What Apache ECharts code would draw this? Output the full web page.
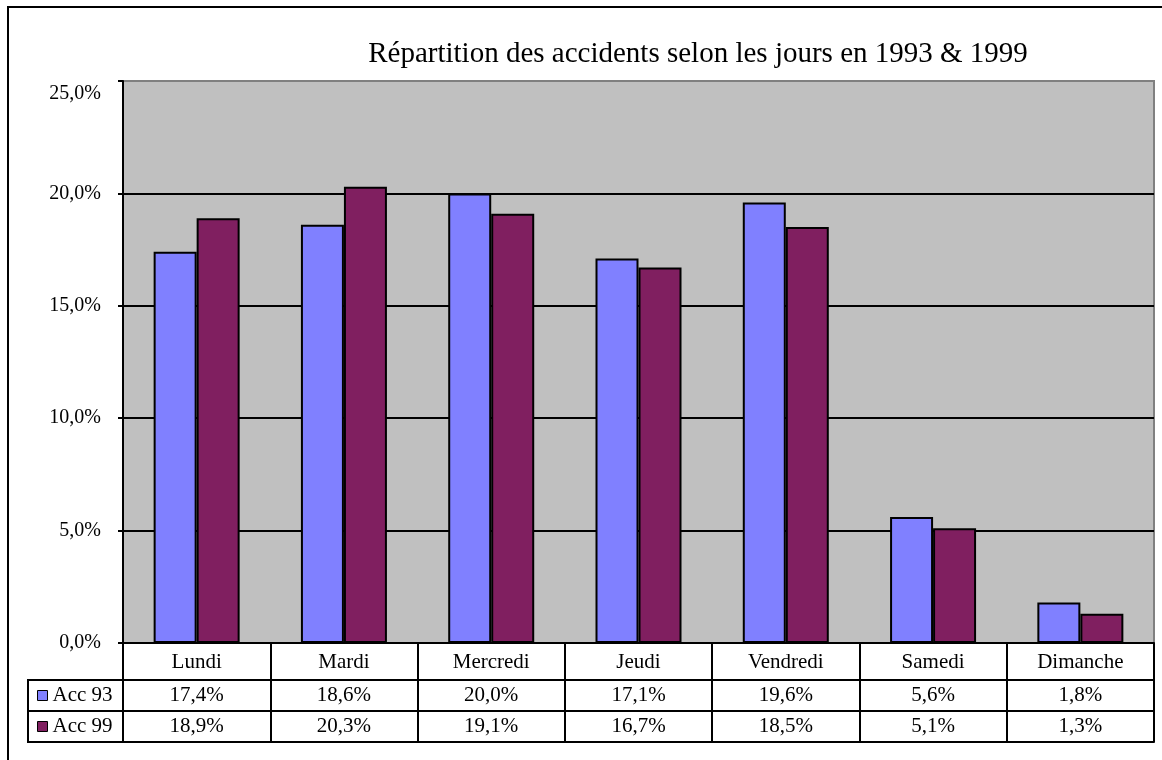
<!DOCTYPE html>
<html>
<head>
<meta charset="utf-8">
<script src="https://cdn.jsdelivr.net/npm/echarts@6/dist/echarts.min.js"></script>
<style>
html,body{margin:0;padding:0;background:#fff;}
#chart{width:1162px;height:760px;}
</style>
</head>
<body>
<div id="chart"></div>
<script>
const titleText = 'Répartition des accidents selon les jours en 1993 & 1999';
const categories = ['Lundi', 'Mardi', 'Mercredi', 'Jeudi', 'Vendredi', 'Samedi', 'Dimanche'];
const seriesNames = ['Acc 93', 'Acc 99'];
const acc93 = [17.4, 18.6, 20.0, 17.1, 19.6, 5.6, 1.8];
const acc99 = [18.9, 20.3, 19.1, 16.7, 18.5, 5.1, 1.3];
const yMin = 0, yMax = 25, yStep = 5;

const FONT = '"Liberation Serif", "Times New Roman", serif';
const fmt = v => v.toFixed(1).replace('.', ',') + '%';

const chart = echarts.init(document.getElementById('chart'), null, {renderer: 'canvas'});

const baseCatAxis = {
  type: 'category',
  data: categories,
  position: 'bottom',
  boundaryGap: true,
  axisLine: {show: true, lineStyle: {color: '#000', width: 2}},
  axisTick: {show: false},
  splitLine: {show: false},
  axisLabel: {fontFamily: FONT, fontSize: 21, color: '#000', interval: 0}
};

const option = {
  backgroundColor: '#fff',
  animation: false,
  textStyle: {fontFamily: FONT},
  grid: {
    left: 123, right: 8, top: 81, bottom: 117,
    show: true, backgroundColor: '#C0C0C0', borderColor: '#808080', borderWidth: 2
  },
  legend: {
    data: seriesNames,
    orient: 'vertical',
    left: 37, top: 685,
    padding: 0,
    itemGap: 10,
    itemWidth: 10, itemHeight: 10,
    icon: 'rect',
    itemStyle: {borderColor: '#000', borderWidth: 1},
    textStyle: {fontFamily: FONT, fontSize: 21, color: '#000', padding: [0, 0, 0, 0]}
  },
  xAxis: [
    Object.assign({}, baseCatAxis, {
      offset: 0,
      axisTick: {show: true, interval: 0, length: 99, lineStyle: {color: '#000', width: 2}},
      axisLabel: Object.assign({}, baseCatAxis.axisLabel, {margin: 9})
    }),
    Object.assign({}, baseCatAxis, {
      offset: 37,
      axisLabel: Object.assign({}, baseCatAxis.axisLabel, {margin: 5, formatter: (v, i) => fmt(acc93[i])})
    }),
    Object.assign({}, baseCatAxis, {
      offset: 68,
      axisLabel: Object.assign({}, baseCatAxis.axisLabel, {margin: 5, formatter: (v, i) => fmt(acc99[i])})
    }),
    Object.assign({}, baseCatAxis, {
      offset: 99,
      axisLabel: {show: false}
    })
  ],
  yAxis: {
    type: 'value',
    min: yMin, max: yMax, interval: yStep,
    axisLine: {show: true, lineStyle: {color: '#000', width: 2}},
    axisTick: {show: true, length: 5, lineStyle: {color: '#000', width: 2}},
    splitLine: {show: true, lineStyle: {color: ['#000', '#000', '#000', '#000', '#000', '#808080'], width: 2}},
    axisLabel: {
      fontFamily: FONT, fontSize: 20, color: '#000', margin: 22,
      formatter: v => v === yMax ? '{t|' + fmt(v) + '}' : fmt(v),
      rich: {t: {fontFamily: FONT, fontSize: 20, color: '#000', padding: [26, 0, 0, 0]}}
    }
  },
  series: [
    {
      name: seriesNames[0], type: 'bar', data: acc93,
      barWidth: 43, barGap: '0%',
      itemStyle: {color: '#8080FF', borderColor: '#000', borderWidth: 2}
    },
    {
      name: seriesNames[1], type: 'bar', data: acc99,
      barWidth: 43, barGap: '0%',
      itemStyle: {color: '#801F60', borderColor: '#000', borderWidth: 2}
    }
  ],
  graphic: [
    {type: 'rect', shape: {x: 8, y: 7, width: 1200, height: 800}, style: {fill: 'none', stroke: '#000', lineWidth: 2}, silent: true, z: 100},
    {type: 'text', x: 698, y: 40, style: {text: titleText, font: '29px ' + FONT, fill: '#000', textAlign: 'center', textVerticalAlign: 'top'}},
    {type: 'line', shape: {x1: 28, y1: 680, x2: 124, y2: 680}, style: {stroke: '#000', lineWidth: 2}},
    {type: 'line', shape: {x1: 28, y1: 711, x2: 124, y2: 711}, style: {stroke: '#000', lineWidth: 2}},
    {type: 'line', shape: {x1: 28, y1: 742, x2: 124, y2: 742}, style: {stroke: '#000', lineWidth: 2}},
    {type: 'line', shape: {x1: 28, y1: 679, x2: 28, y2: 743}, style: {stroke: '#000', lineWidth: 2}}
  ]
};
chart.setOption(option);
</script>
</body>
</html>
